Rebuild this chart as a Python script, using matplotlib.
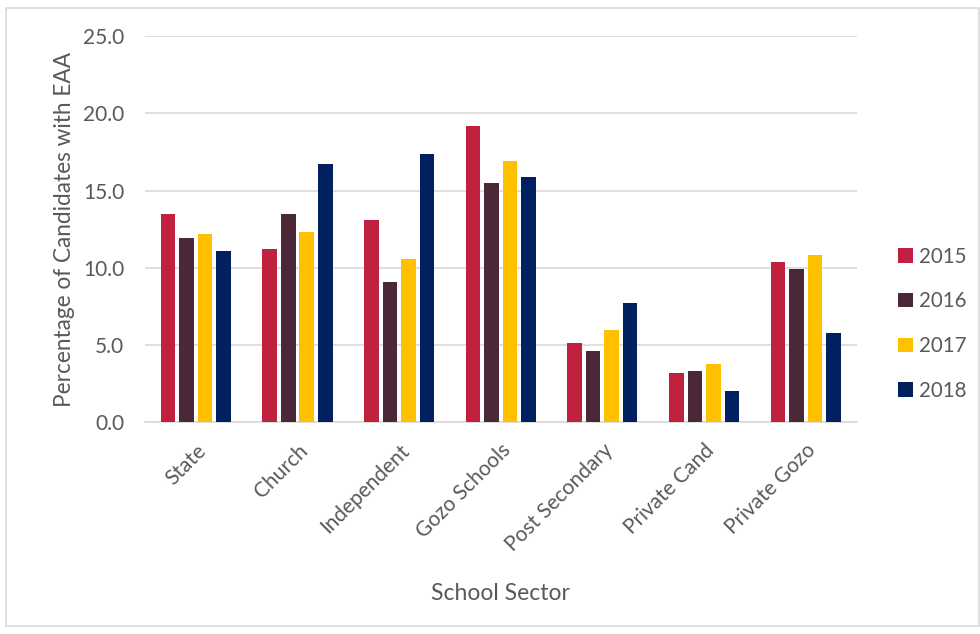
import numpy as np
import matplotlib
matplotlib.use("Agg")
import matplotlib.pyplot as plt
from matplotlib.patches import Rectangle

plt.rcParams['font.family'] = ['Lato', 'DejaVu Sans']

sectors = ["State", "Church", "Independent", "Gozo Schools", "Post Secondary",
           "Private Cand", "Private Gozo"]
years = ["2015", "2016", "2017", "2018"]
v2015 = [13.5, 11.2, 13.1, 19.2, 5.1, 3.2, 10.4]
v2016 = [11.9, 13.5, 9.1, 15.5, 4.6, 3.3, 9.9]
v2017 = [12.2, 12.3, 10.6, 16.9, 6.0, 3.8, 10.8]
v2018 = [11.1, 16.7, 17.4, 15.9, 7.7, 2.0, 5.8]
colors = ["#C0213F", "#4A2838", "#FFC000", "#002060"]

text_col = "#595959"

fig = plt.figure(figsize=(9.8, 6.34), dpi=100)
fig.patches.append(Rectangle((0.006, 0.012), 0.993, 0.976, transform=fig.transFigure,
                             fill=False, edgecolor="#D9D9D9", linewidth=1.2))
ax = fig.add_axes([0.148, 0.334, 0.726, 0.609])

x = np.arange(len(sectors))
step = 0.182
width = 0.143
for i, (vals, yr) in enumerate(zip([v2015, v2016, v2017, v2018], years)):
    ax.bar(x + (i - 1.5) * step, vals, width, color=colors[i], label=yr, zorder=3)

ax.set_xlim(-0.5, len(sectors) - 0.5)
ax.set_ylim(0, 25)
ax.set_yticks(np.arange(0, 25.1, 5))
ax.set_yticklabels([f"{v:.1f}" for v in np.arange(0, 25.1, 5)])
ax.yaxis.grid(True, color="#D9D9D9", linewidth=1.2, zorder=0)
ax.tick_params(axis='both', length=0, colors=text_col, labelsize=15)
ax.tick_params(axis='y', pad=15)
ax.tick_params(axis='x', pad=13)
ax.set_xticks(x)
ax.set_xticklabels(sectors, rotation=45, ha='right', rotation_mode='anchor')
for s in ["top", "right", "left"]:
    ax.spines[s].set_visible(False)
ax.spines["bottom"].set_color("#D9D9D9")
ax.spines["bottom"].set_linewidth(1.2)

ax.set_ylabel("Percentage of Candidates with EAA", fontsize=16.3, color=text_col, labelpad=6)
ax.set_xlabel("School Sector", fontsize=16.5, color=text_col, labelpad=20)

leg = ax.legend(loc='center left', bbox_to_anchor=(1.033, 0.255), frameon=False,
                fontsize=14.8, handlelength=0.7, handleheight=0.7, labelspacing=1.2,
                handletextpad=0.3, borderpad=0.4)
for t in leg.get_texts():
    t.set_color(text_col)

fig.savefig("out.png", dpi=100)
